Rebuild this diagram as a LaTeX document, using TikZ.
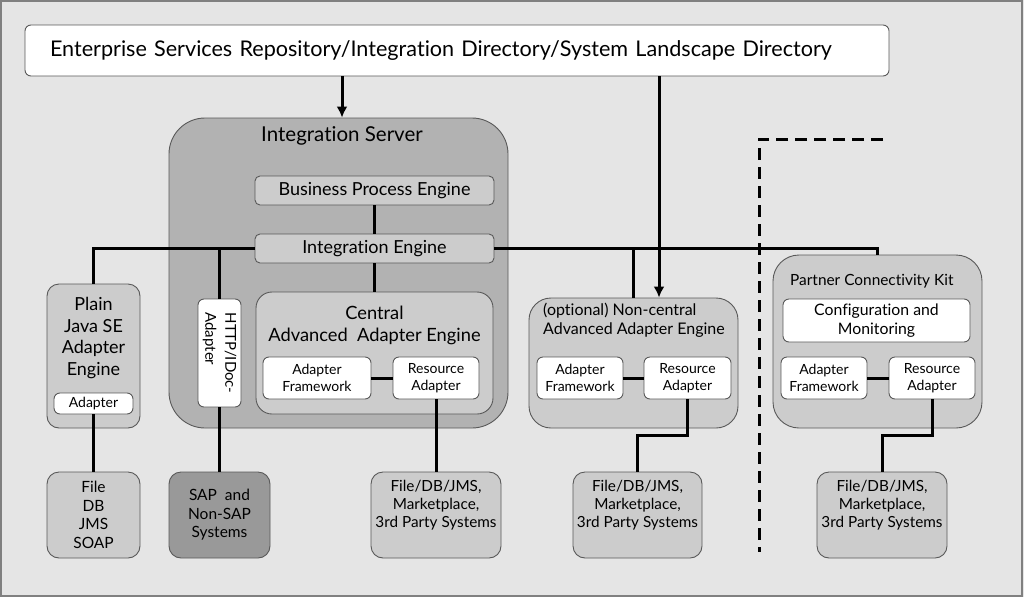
\documentclass[tikz,border=0pt]{standalone}
\usepackage{fontspec}
\setmainfont{Lato}[Ligatures=NoCommon]
\usetikzlibrary{arrows.meta,positioning}
\newcommand{\fsz}[2]{\fontsize{#1}{#2}\selectfont}

\begin{document}
\begin{tikzpicture}[x=1pt,y=-1pt,
    box/.style={draw=black!65,line width=.9pt,rounded corners=#1,inner sep=0pt,align=center},
    box/.default=6pt,
    wbox/.style={box,fill=white},
    lbox/.style={box=#1,fill=black!20},
    lbox/.default=12pt,
    txt/.style={inner sep=0pt,align=center},
    link/.style={line width=3pt},
    >={Latex[length=11pt,width=11pt]}]
    \fill [black!10] (0,0) rectangle (1024,597);
    \draw [black!50,line width=2pt] (1,1) rectangle (1022,596);
    \useasboundingbox (0,0) rectangle (1024,597);
    \node (ESR) [wbox,minimum height=51pt,text width=814pt,inner xsep=25pt,align=left,font=\fsz{21.6}{24}] at (457,50.5) {Enterprise Services Repository/Integration Directory/System Landscape Directory};
    \node (IS) [box=36pt,fill=black!30,minimum width=339pt,minimum height=310pt] at (338.5,273) {};
    \node (IST) [txt,font=\fsz{20.5}{22}] at (342,136) {Integration Server};
    \node (BPE) [lbox=5pt,minimum width=239pt,minimum height=29pt,font=\fsz{18}{20}] at (374.5,190.5) {Business Process Engine};
    \node (IE) [lbox=5pt,minimum width=239pt,minimum height=29pt,font=\fsz{18}{20}] at (374.5,248.5) {Integration Engine};
    \node (CAE) [lbox=16pt,minimum width=237pt,minimum height=122pt] at (374.5,353) {};
    \node (CAET) [txt,font=\fsz{18.3}{22}] at (374.5,325) {Central\\Advanced\ \ Adapter Engine};
    \node (AF1) [wbox,minimum width=108pt,minimum height=42pt,font=\fsz{14}{16.5}] at (317,378) {Adapter\\Framework};
    \node (RA1) [wbox,minimum width=86pt,minimum height=42pt,font=\fsz{14}{16.5}] at (436,378) {Resource\\Adapter};
    \node (HA) [wbox,rotate=-90,align=left,minimum width=108pt,minimum height=43pt,font=\fsz{15}{20}] at (219.5,353) {HTTP/IDoc-\\Adapter};
    \node (PJ) [lbox,minimum width=93pt,minimum height=144pt] at (93.5,356) {};
    \node (PJT) [txt,font=\fsz{18}{21.5}] at (93.5,338) {Plain\\Java SE\\Adapter\\Engine};
    \node (PA) [wbox=4pt,minimum width=79pt,minimum height=21pt,font=\fsz{14}{16}] at (93.5,403.5) {Adapter};
    \node (FD) [lbox,minimum width=93pt,minimum height=86pt,font=\fsz{15.5}{18.5}] at (93.5,515) {File\\DB\\JMS\\SOAP};
    \node (SAP) [box=12pt,fill=black!40,minimum width=101pt,minimum height=86pt,font=\fsz{15.5}{18.5}] at (219.5,515) {SAP\ \ and\\Non-SAP\\Systems};
    \node (F1) [lbox,minimum width=130pt,minimum height=86pt] at (436,515) {};
    \node (F1T) [txt,font=\fsz{15.3}{18}] at (436,505) {File/DB/JMS,\\Marketplace,\\3rd Party Systems};
    \node (NC) [lbox=22pt,minimum width=209pt,minimum height=130pt] at (633.5,363) {};
    \node (NCT) [txt,anchor=west,align=left,font=\fsz{16}{19}] at (543,320.5) {(optional) Non-central\\Advanced Adapter Engine};
    \node (AF2) [wbox,minimum width=86pt,minimum height=42pt,font=\fsz{14}{16.5}] at (580,378) {Adapter\\Framework};
    \node (RA2) [wbox,minimum width=87pt,minimum height=42pt,font=\fsz{14}{16.5}] at (687.5,378) {Resource\\Adapter};
    \node (F2) [lbox,minimum width=129pt,minimum height=86pt] at (637.5,515) {};
    \node (F2T) [txt,font=\fsz{15.3}{18}] at (637.5,505) {File/DB/JMS,\\Marketplace,\\3rd Party Systems};
    \node (PCK) [lbox=26pt,minimum width=209pt,minimum height=173pt] at (877.5,341.5) {};
    \node (PCKT) [txt,anchor=west,font=\fsz{15.4}{19}] at (790,281) {Partner Connectivity Kit};
    \node (CM) [wbox,minimum width=187pt,minimum height=43pt,font=\fsz{15.8}{19}] at (876.5,320.5) {Configuration and\\Monitoring};
    \node (AF3) [wbox,minimum width=86pt,minimum height=42pt,font=\fsz{14}{16.5}] at (824,378) {Adapter\\Framework};
    \node (RA3) [wbox,minimum width=86pt,minimum height=42pt,font=\fsz{14}{16.5}] at (932,378) {Resource\\Adapter};
    \node (F3) [lbox,minimum width=130pt,minimum height=86pt] at (882,515) {};
    \node (F3T) [txt,font=\fsz{15.3}{18}] at (882,505) {File/DB/JMS,\\Marketplace,\\3rd Party Systems};
    \draw [link,->] (ESR.south -| IST) to (IS.north -| IST);
    \draw [link,->] ([xshift=25.5pt]ESR.south -| NC.north) to ([xshift=25.5pt]NC.north);
    \draw [link] (BPE) to (IE);
    \draw [link] (IE) to (CAE);
    \draw [link] (IE.west) -| (PJ.north);
    \draw [link] (IE.west -| HA.west) to (HA.west);
    \draw [link] (IE.east) -| (PCK.north);
    \draw [link] (IE.east -| NC.north) to (NC.north);
    \draw [link] (AF1) to (RA1);
    \draw [link] (AF2) to (RA2);
    \draw [link] (AF3) to (RA3);
    \draw [link] (PA) to (FD);
    \draw [link] (HA.east) to (SAP);
    \draw [link] (RA1) to (F1);
    \draw [link] (RA2.south) -- ++(0,36) -| (F2.north);
    \draw [link] (RA3.south) -- ++(0,36) -| (F3.north);
    \draw [link,dash pattern=on 12pt off 7pt] (883,139) -- (759,139) -- (759,552);
  \end{tikzpicture}
\end{document}
